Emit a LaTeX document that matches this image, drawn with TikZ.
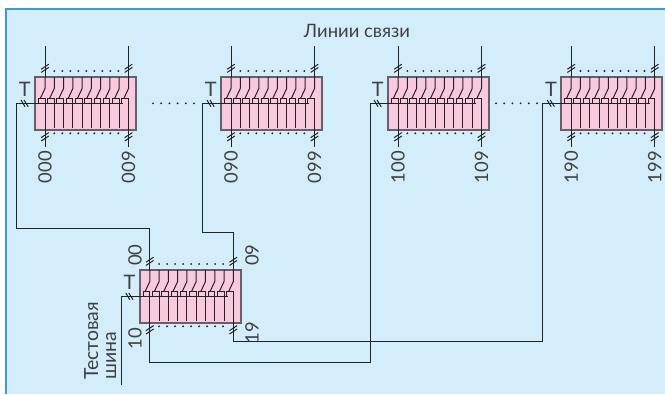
\documentclass[tikz,border=0pt]{standalone}
\usepackage{fontspec}
\setmainfont{Lato}
\definecolor{bgblue}{HTML}{D4EDFB}
\definecolor{edgeblue}{HTML}{3B9BD8}
\definecolor{boxpink}{HTML}{F9C9DF}
\definecolor{ink}{HTML}{222222}
\definecolor{boxedge}{HTML}{666066}
\definecolor{txt}{HTML}{404040}
\tikzset{
  wire/.style={draw=ink,line width=1bp},
  thinw/.style={draw=ink,line width=1bp},
  modbox/.style={draw=boxedge,fill=boxpink,line width=2bp},
  lab/.style={text=txt,font=\fontsize{18.5}{18.5}\selectfont,inner sep=0pt},
  rlab/.style={lab,rotate=90,anchor=east},
  dotm/.style={fill=ink,draw=none},
}
% #1 name, #2 X left of box, #3 Y top of box
\newcommand{\crossmodule}[3]{%
  \begin{scope}[shift={(#2,#3)}]
    \node[modbox,draw,minimum width=101bp,minimum height=53bp,anchor=north west,inner sep=0pt] (#1) at (-0.8,-0.6) {};
    \foreach \i in {0,...,9}{
      \pgfmathsetmacro{\xx}{10.5+\i*9.28}
      \draw[thinw] (\xx,0) -- (\xx,11.5) -- (\xx-4.6,21.3) ;
      \draw[thinw] (\xx-6.6,26.3) -- (\xx-6.6,21.3) -- (\xx,21.3) -- (\xx,51);
    }
    \draw[wire] (10.5,21.3) -- (10.5,53.5);
    \draw[wire] (94,21.3) -- (94,53.5);
    \coordinate (#1-bus) at (0,26.3);
    \coordinate (#1-tl) at (10.5,0);
    \coordinate (#1-tr) at (94,0);
    \coordinate (#1-bl) at (10.5,53.5);
    \coordinate (#1-br) at (94,53.5);
    \draw[wire] (-9,26.3) -- (88.8,26.3);
    \draw[thinw] (-13.5,23) -- (-9.5,29.7) (-10.5,23) -- (-6.3,29.7);
    \foreach \xs in {10.5,94}{
      \draw[thinw] (\xs-3.8,-4.6) -- (\xs+3.8,-9.6) (\xs-3.8,-7.8) -- (\xs+3.8,-12.8);
      \draw[thinw] (\xs-3.8,60.6) -- (\xs+3.8,55.6) (\xs-3.8,64) -- (\xs+3.8,59);
    }
    \foreach \i in {0,...,8}{
      \fill[dotm] (19.8+\i*8,-6) circle (1.05bp);
      \fill[dotm] (19.8+\i*8,56.3) circle (1.05bp);
    }
    \node[lab,anchor=base,font=\fontsize{20}{20}\selectfont] (#1-T) at (-9.8,19.3) {Т};
  \end{scope}}
\begin{document}
\begin{tikzpicture}[x=1bp,y=-1bp]
  \useasboundingbox (0,0) rectangle (665,394);
  \fill[white] (0,0) rectangle (665,394);
  \fill[bgblue] (6,9) rectangle (665,394);
  \draw[edgeblue,line width=2bp] (6,394) -- (6,9) -- (665,9);
  \crossmodule{ma}{34.5}{77}
  \crossmodule{mb}{220.5}{77}
  \crossmodule{mc}{387.5}{77}
  \crossmodule{md}{560.7}{77}
  \crossmodule{me}{139.3}{270}
  % top and bottom stubs
  \foreach \m in {ma,mb,mc,md}{
    \coordinate (\m-a) at ([yshift=31bp]\m-tl);
    \coordinate (\m-b) at ([yshift=31bp]\m-tr);
    \draw[wire] (\m-a) -- (\m-tl);
    \draw[wire] (\m-b) -- (\m-tr);
    \draw[wire] (\m-bl) -- ++(0,16.5);
    \draw[wire] (\m-br) -- ++(0,16.5);
  }
  % dots between modules
  \foreach \i in {0,...,5}{
    \fill[dotm] (153+\i*8.2,103.3) circle (1.05bp);
    \fill[dotm] (496+\i*8.2,103.3) circle (1.05bp);
  }
  % trunk wiring
  \coordinate (j1) at (16.7,228);
  \coordinate (j2) at (202.5,232);
  \coordinate (j3) at (370,362);
  \coordinate (j4) at (542.7,341.7);
  \draw[wire] (ma-bus) -- (ma-bus -| j1) -- (j1) -- (j1 -| me-tl) -- (me-tl);
  \draw[wire] (mb-bus) -- (mb-bus -| j2) -- (j2) -- (j2 -| me-tr) -- (me-tr);
  \draw[wire] (mc-bus) -- (mc-bus -| j3) -- (j3) -- (j3 -| me-bl) -- (me-bl);
  \draw[wire] (md-bus) -- (md-bus -| j4) -- (j4) -- (j4 -| me-br) -- (me-br);
  \coordinate (j5) at (121.7,385);
  \draw[wire] (me-bus) -- (me-bus -| j5) -- (j5);
  % labels
  \node[lab] (title) at (357,31) {Линии связи};
  \node[rlab] (l1) at (45,151) {000};
  \node[rlab] (l2) at (128.5,151) {009};
  \node[rlab] (l3) at (231,151) {090};
  \node[rlab] (l4) at (314.5,151) {099};
  \node[rlab] (l5) at (398,151) {100};
  \node[rlab] (l6) at (481.5,151) {109};
  \node[rlab] (l7) at (571.2,151) {190};
  \node[rlab] (l8) at (654.7,151) {199};
  \node[rlab,anchor=west] (l9) at (135,266) {00};
  \node[rlab,anchor=west] (l10) at (252,266) {09};
  \node[rlab,anchor=east] (l11) at (135,328) {10};
  \node[rlab,anchor=east] (l12) at (252,322) {19};
  \node[rlab,anchor=base west,font=\fontsize{19.5}{19.5}\selectfont] (l13) at (98,380) {Тестовая};
  \node[rlab,anchor=base west,font=\fontsize{19.5}{19.5}\selectfont] (l14) at (116,380) {шина};
\end{tikzpicture}
\end{document}
